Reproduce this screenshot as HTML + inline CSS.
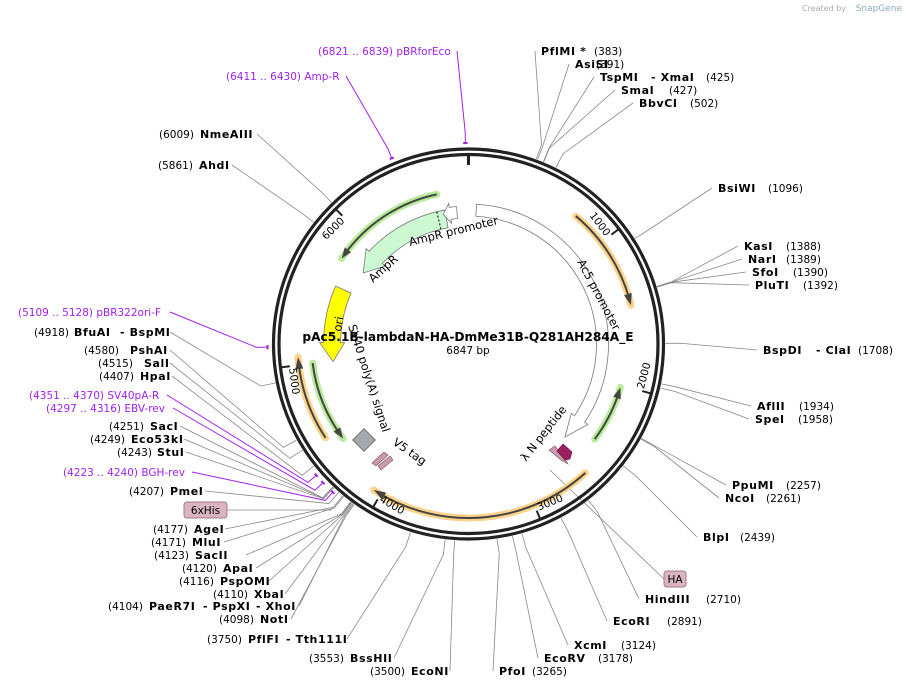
<!DOCTYPE html>
<html><head><meta charset="utf-8"><style>
html,body{margin:0;padding:0;background:#fff;}
svg{display:block;font-family:"DejaVu Sans","Liberation Sans",sans-serif;}
</style></head><body>
<svg id="map" width="906" height="688" viewBox="0 0 906 688" xmlns="http://www.w3.org/2000/svg">
<text x="846" y="11" font-size="8" fill="#aaa" text-anchor="end">Created by</text>
<text x="902" y="11" font-size="9" fill="#8ab" text-anchor="end">SnapGene</text>
<g id="leaders"></g>
<g id="feats"></g>
<circle cx="468.5" cy="344" r="195" fill="none" stroke="#222" stroke-width="3.2"/>
<circle cx="468.5" cy="344" r="189.5" fill="none" stroke="#222" stroke-width="3.2"/>
<g id="ticks"></g>
<g id="labels"></g>
<text x="468" y="341" font-size="12.2" font-weight="bold" text-anchor="middle">pAc5.1B-lambdaN-HA-DmMe31B-Q281AH284A_E</text>
<text x="468" y="354" font-size="10.5" text-anchor="middle">6847 bp</text>
</svg>
<script>
const total = 6847;
const tickValues = [1000,2000,3000,4000,5000,6000];
const enzymesRight = [
 [383,51,[[541,"PflMI *",1],[594,"(383)",0]]],
 [391,64,[[575,"AsiSI",1],[596,"(391)",0]]],
 [425,77,[[600,"TspMI",1],[651,"- XmaI",1],[706,"(425)",0]]],
 [427,90,[[621,"SmaI",1],[669,"(427)",0]]],
 [502,103,[[639,"BbvCI",1],[690,"(502)",0]]],
 [1096,188,[[718,"BsiWI",1],[768,"(1096)",0]]],
 [1388,246,[[744,"KasI",1],[786,"(1388)",0]]],
 [1389,259,[[748,"NarI",1],[786,"(1389)",0]]],
 [1390,272,[[752,"SfoI",1],[793,"(1390)",0]]],
 [1392,285,[[755,"PluTI",1],[803,"(1392)",0]]],
 [1708,350,[[763,"BspDI",1],[816,"- ClaI",1],[858,"(1708)",0]]],
 [1934,406,[[757,"AflII",1],[799,"(1934)",0]]],
 [1958,419,[[755,"SpeI",1],[798,"(1958)",0]]],
 [2257,485,[[732,"PpuMI",1],[786,"(2257)",0]]],
 [2261,498,[[725,"NcoI",1],[766,"(2261)",0]]],
 [2439,537,[[703,"BlpI",1],[740,"(2439)",0]]],
 [2710,599,[[645,"HindIII",1],[706,"(2710)",0]]],
 [2891,621,[[613,"EcoRI",1],[667,"(2891)",0]]],
 [3124,645,[[574,"XcmI",1],[621,"(3124)",0]]],
 [3178,658,[[544,"EcoRV",1],[598,"(3178)",0]]],
 [3265,671,[[499,"PfoI",1],[532,"(3265)",0]]]
];
const enzymesLeft = [
 [6009,134,257,[[159,"(6009)",0],[200,"NmeAIII",1]]],
 [5861,165,232,[[158,"(5861)",0],[199,"AhdI",1]]],
 [4918,332,170,[[34,"(4918)",0],[74,"BfuAI",1],[120,"- BspMI",1]]],
 [4580,350,170,[[84,"(4580)",0],[130,"PshAI",1]]],
 [4515,363,170,[[98,"(4515)",0],[144,"SalI",1]]],
 [4407,376,172,[[99,"(4407)",0],[140,"HpaI",1]]],
 [4251,426,180,[[109,"(4251)",0],[150,"SacI",1]]],
 [4249,439,184,[[90,"(4249)",0],[131,"Eco53kI",1]]],
 [4243,452,186,[[117,"(4243)",0],[157,"StuI",1]]],
 [4207,491,205,[[129,"(4207)",0],[170,"PmeI",1]]],
 [4177,529,225,[[153,"(4177)",0],[194,"AgeI",1]]],
 [4171,542,224,[[151,"(4171)",0],[192,"MluI",1]]],
 [4123,555,246,[[154,"(4123)",0],[195,"SacII",1]]],
 [4120,568,256,[[182,"(4120)",0],[223,"ApaI",1]]],
 [4116,581,269,[[179,"(4116)",0],[220,"PspOMI",1]]],
 [4110,594,285,[[213,"(4110)",0],[254,"XbaI",1]]],
 [4104,606,299,[[108,"(4104)",0],[149,"PaeR7I",1],[203,"- PspXI",1],[256,"- XhoI",1]]],
 [4098,619,291,[[219,"(4098)",0],[260,"NotI",1]]],
 [3750,639,347,[[207,"(3750)",0],[248,"PflFI",1],[286,"- Tth111I",1]]],
 [3553,658,394,[[309,"(3553)",0],[350,"BssHII",1]]],
 [3500,671,450,[[370,"(3500)",0],[411,"EcoNI",1]]]
];
const primers = [
 [6830,"(6821 .. 6839)  pBRforEco",318,51,457],
 [6420,"(6411 .. 6430)  Amp-R",226,76,346],
 [5118,"(5109 .. 5128)  pBR322ori-F",18,312,170],
 [4360,"(4351 .. 4370)  SV40pA-R",29,395,167],
 [4306,"(4297 .. 4316)  EBV-rev",46,408,173],
 [4231,"(4223 .. 4240)  BGH-rev",63,472,192]
];
const cx=468.5, cy=344;
const NS="http://www.w3.org/2000/svg";
function ang(bp){return bp/total*2*Math.PI;}
function pt(bp,r){const a=ang(bp);return [cx+r*Math.sin(a), cy-r*Math.cos(a)];}
function ptA(deg,r){const a=deg*Math.PI/180;return [cx+r*Math.sin(a), cy-r*Math.cos(a)];}
function mk(tag,attrs,parent){const e=document.createElementNS(NS,tag);for(const k in attrs)e.setAttribute(k,attrs[k]);parent.appendChild(e);return e;}
const L=document.getElementById('leaders'), T=document.getElementById('ticks'), LB=document.getElementById('labels'), F=document.getElementById('feats');

mk('line',{x1:cx,y1:cy-179,x2:cx,y2:cy-191,stroke:'#222','stroke-width':3},T);
tickValues.forEach(v=>{
  const a=pt(v,180),b=pt(v,190);
  const t=mk('line',{x1:a[0],y1:a[1],x2:b[0],y2:b[1],stroke:'#222','stroke-width':2},T);
  
  
  const deg=v/total*360;
  const top = (deg<90||deg>270);
  const rot = top ? (deg>180?deg-360:deg) : deg-180;
  const p=pt(v,181);
  const tx=mk('text',{x:p[0],y:p[1],'font-size':10.5,'text-anchor':top?'end':'start',
    dx: top?-2:2, 'dominant-baseline': top?'hanging':'auto',
    transform:`rotate(${rot} ${p[0]} ${p[1]})`},T);
  tx.textContent=v;
  
  
});

function drawLabel(parts,y,name){
  parts.forEach(p=>{
    const t=mk('text',{x:p[0],y:y+4,'font-size':p[2]?11:10.5,'font-weight':p[2]?'bold':'normal','letter-spacing':p[2]?0.6:0},LB);
    t.textContent=p[1];
    
    
  });
}
enzymesRight.forEach(e=>{
  const a=pt(e[0],197),b=pt(e[0],212);
  const ln=mk('polyline',{points:`${a} ${b} ${e[2][0][0]-6},${e[1]}`,fill:'none',stroke:'#888','stroke-width':0.8},L);
  
  
  drawLabel(e[2],e[1],'enzyme-'+e[2][0][1].toLowerCase().replace(/[^a-z0-9]/g,''));
});
enzymesLeft.forEach(e=>{
  const a=pt(e[0],197),b=pt(e[0],212);
  const ln=mk('polyline',{points:`${a} ${b} ${e[2]},${e[1]}`,fill:'none',stroke:'#888','stroke-width':0.8},L);
  
  
  drawLabel(e[3],e[1],'enzyme-'+e[3][1][1].toLowerCase().replace(/[^a-z0-9]/g,''));
});
primers.forEach(p=>{
  const a=pt(p[0],201),b=pt(p[0],212);
  const ln=mk('polyline',{points:`${a} ${b} ${p[4]},${p[3]}`,fill:'none',stroke:'#a020f0','stroke-width':1},L);
  
  
  const c=pt(p[0]-12,201),d=pt(p[0]+12,201);
  const m=mk('line',{x1:c[0],y1:c[1],x2:d[0],y2:d[1],stroke:'#a020f0','stroke-width':2},L);
  
  
  const t=mk('text',{x:p[2],y:p[3]+4,'font-size':10.5,fill:'#a020f0'},LB);
  t.textContent=p[1];
  
  
});
[[184,510,"6xHis"],[664,579,"HA"]].forEach(b=>{
  const w=b[2].length*7+8;
  const r=mk('rect',{x:b[0],y:b[1]-8,width:w,height:16,rx:3,fill:'#dbb4c2',stroke:'#a07888','stroke-width':1},LB);
  
  
  const t=mk('text',{x:b[0]+w/2,y:b[1]+4,'font-size':10.5,'text-anchor':'middle'},LB);
  t.textContent=b[2];
  
  
});
mk('line',{x1:221,y1:510,x2:332,y2:510,stroke:'#888','stroke-width':0.8},L);
mk('line',{x1:664,y1:579,x2:550,y2:470,stroke:'#888','stroke-width':0.8},L);

function arcPath(a1,a2,r){const p1=ptA(a1,r),p2=ptA(a2,r);const large=Math.abs(a2-a1)>180?1:0;const sw=a2>a1?1:0;return `M${p1} A${r},${r} 0 ${large} ${sw} ${p2}`;}
function orf(a1,a2,r,color,name){
  const h=mk('path',{d:arcPath(a1,a2,r),fill:'none',stroke:color,'stroke-width':7,'stroke-linecap':'round'},F);
  
  
  const dir=a2>a1?1:-1;
  mk('path',{d:arcPath(a1,a2-dir*2.5,r),fill:'none',stroke:'#444','stroke-width':2},F);
  const tip=ptA(a2,r),b1=ptA(a2-dir*4,r-4),b2=ptA(a2-dir*4,r+4);
  mk('path',{d:`M${tip} L${b1} L${b2} Z`,fill:'#444'},F);
}
orf(40,76.6,167,'#fbd38a','orf-1');
orf(127,106,158,'#b9ec9a','orf-2');
orf(137.8,213,174,'#fbd38a','orf-3');
orf(236.7,265.6,171,'#fbd38a','orf-4');
orf(263,233,157,'#b9ec9a','orf-5');
orf(348,304,153,'#b9ec9a','orf-6');

function band(a1,a2,r1,r2,fill,stroke,name,head){
  const dir=a2>a1?1:-1;const ah=a2-dir*head;
  const p1=ptA(a1,r2),p2=ptA(ah,r2),p3=ptA(ah,r2+4),tip=ptA(a2,(r1+r2)/2),p4=ptA(ah,r1-4),p5=ptA(ah,r1),p6=ptA(a1,r1);
  const large=Math.abs(ah-a1)>180?1:0;const sw=dir>0?1:0;
  const d=`M${p1} A${r2},${r2} 0 ${large} ${sw} ${p2} L${p3} L${tip} L${p4} L${p5} A${r1},${r1} 0 ${large} ${1-sw} ${p6} Z`;
  const e=mk('path',{d,fill,stroke,'stroke-width':0.8},F);
  
  
}
band(3.3,134,128,140,'#fff','#777','ac5-promoter',10);
band(350,304,118,136,'#ccf8d2','#777','ampr',9);
band(355,349,126,138,'#fff','#777','ampr-promoter',3);
band(293.5,262.6,128,145,'#ffff00','#777','ori',8);
{const a=ptA(346.5,118),b=ptA(346.5,136);mk('line',{x1:a[0],y1:a[1],x2:b[0],y2:b[1],stroke:'#000','stroke-dasharray':'2,2'},F);}
mk('rect',{x:356,y:432,width:16,height:16,fill:'#a3a8ad',stroke:'#777',transform:'rotate(45 364 440)'},F);
mk('path',{d:'M372,463 L384,452 L388,455 L376,466 Z',fill:'#c89aab',stroke:'#7a5060','stroke-width':0.6},F);
mk('path',{d:'M378,466 L390,456 L393,460 L381,470 Z',fill:'#c89aab',stroke:'#7a5060','stroke-width':0.6},F);
mk('path',{d:'M555,446 L565,459 L568,464 L561,460 L549,450 Z',fill:'#c89aab',stroke:'#7a5060','stroke-width':0.6},F);
mk('path',{d:'M557,451 L563,444 L572,452 L570,459 L565,460 Z',fill:'#9b2060',stroke:'#5a1035','stroke-width':0.6},F);
function ftext(x,y,rot,s,name,size){const t=mk('text',{x,y,'font-size':size||11.5,transform:`rotate(${rot} ${x} ${y})`},F);t.textContent=s;}
ftext(410,246,-14,'AmpR promoter','ampr-promoter-label');
ftext(373,283,-42,'AmpR','ampr-label');
ftext(577,262,62,'Ac5 promoter','ac5-promoter-label');
ftext(341,332,-80,'ori','ori-label');
ftext(348,326,72,'SV40 poly(A) signal','sv40-label');
ftext(392,444,35,'V5 tag','v5-tag-label');
ftext(526,462,-52,'λ N peptide','lambda-n-label');
</script>
</body></html>
